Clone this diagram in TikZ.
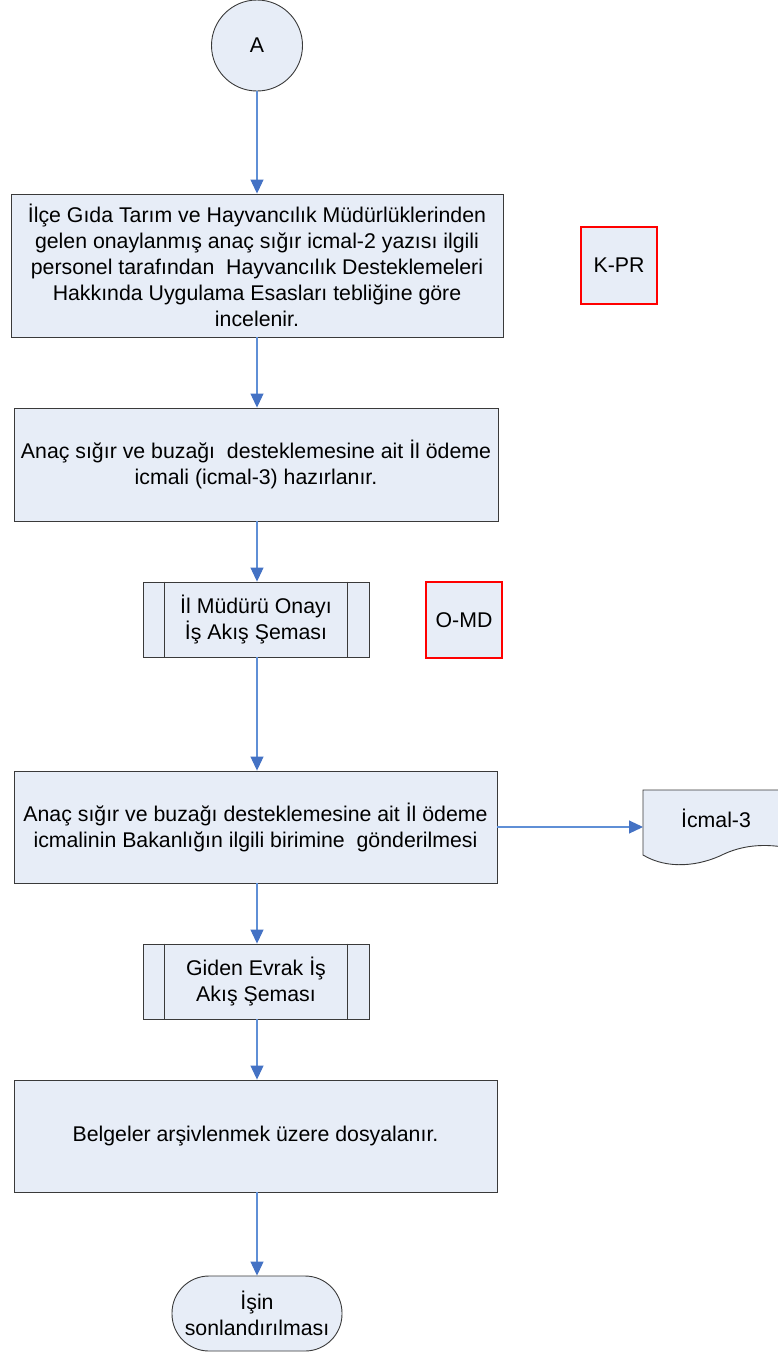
\documentclass[tikz,border=0pt]{standalone}
\usepackage{fontspec}
\setmainfont{Liberation Sans}
\usetikzlibrary{arrows.meta}
\definecolor{boxfill}{HTML}{E7EDF7}
\definecolor{edgegray}{HTML}{3A3A3A}
\definecolor{linkblue}{HTML}{5F8FD6}
\definecolor{tipblue}{HTML}{4472C4}
\begin{document}
\begin{tikzpicture}[x=1pt,y=-1pt,
  every node/.style={font=\fontsize{21.3}{26}\selectfont, align=center, inner sep=0pt},
  proc/.style={rectangle, draw=edgegray, line width=0.9pt, fill=boxfill},
  redbox/.style={rectangle, draw=red, line width=2.2pt, fill=boxfill, minimum width=76pt, minimum height=77pt},
  link/.style={draw=linkblue, line width=1.1pt, -{Triangle[length=14pt,width=13pt,fill=tipblue,color=tipblue]}}
]
\useasboundingbox (0,0) rectangle (778,1355);
\clip (0,0) rectangle (778,1355);
\fill[white] (0,0) rectangle (778,1355);

\node[circle, draw=edgegray, line width=0.9pt, fill=boxfill, minimum size=91pt] (A) at (257,45.5) {A};

\node[proc, minimum width=492pt, minimum height=143pt] (b1) at (257,265.5)
 {İlçe Gıda Tarım ve Hayvancılık Müdürlüklerinden\\gelen onaylanmış anaç sığır icmal-2 yazısı ilgili\\personel tarafından\ \ Hayvancılık Desteklemeleri\\Hakkında Uygulama Esasları tebliğine göre\\incelenir.};

\node[redbox] (kpr) at (619,265.5) {K-PR};

\node[proc, minimum width=484pt, minimum height=113pt] (b2) at (256,464.5)
 {Anaç sığır ve buzağı\ \ desteklemesine ait İl ödeme\\icmali (icmal-3) hazırlanır.};

\node[proc, minimum width=226pt, minimum height=75pt] (p1) at (256,619.5)
 {İl Müdürü Onayı\\İş Akış Şeması};
\draw[edgegray, line width=0.9pt] ([xshift=22pt]p1.north west) -- ([xshift=22pt]p1.south west);
\draw[edgegray, line width=0.9pt] ([xshift=-22pt]p1.north east) -- ([xshift=-22pt]p1.south east);

\node[redbox, minimum height=76pt] (omd) at (464,620) {O-MD};

\node[proc, minimum width=483pt, minimum height=112pt] (b3) at (255.5,827)
 {Anaç sığır ve buzağı desteklemesine ait İl ödeme\\icmalinin Bakanlığın ilgili birimine\ \ gönderilmesi};

% document shape
\filldraw[fill=boxfill, draw=edgegray, line width=0.9pt]
  (643,790) -- (805,790) -- (805,852)
  .. controls (775,843) and (748,843) .. (724,854)
  .. controls (700,866) and (668,870) .. (643,855) -- cycle;
\coordinate (docw) at (643,827);
\node (doc) at (716,818) {İcmal-3};

\node[proc, minimum width=226pt, minimum height=75pt] (p2) at (256,981.5)
 {Giden Evrak İş\\Akış Şeması};
\draw[edgegray, line width=0.9pt] ([xshift=22pt]p2.north west) -- ([xshift=22pt]p2.south west);
\draw[edgegray, line width=0.9pt] ([xshift=-22pt]p2.north east) -- ([xshift=-22pt]p2.south east);

\node[proc, minimum width=483pt, minimum height=112pt] (b4) at (255.5,1136)
 {Belgeler arşivlenmek üzere dosyalanır.};

\node[proc, rounded corners=37pt, minimum width=170pt, minimum height=75pt] (t) at (257,1313.5)
 {İşin\\sonlandırılması};

\draw[link] (A.south) -- (A.south |- b1.north);
\draw[link] (b1.south -| 257,0) -- (257,0 |- b2.north);
\draw[link] (b2.south -| 257,0) -- (257,0 |- p1.north);
\draw[link] (p1.south -| 257,0) -- (257,0 |- b3.north);
\draw[link] (b3.east) -- (docw);
\draw[link] (b3.south -| 257,0) -- (257,0 |- p2.north);
\draw[link] (p2.south -| 257,0) -- (257,0 |- b4.north);
\draw[link] (b4.south -| 257,0) -- (257,0 |- t.north);
\end{tikzpicture}
\end{document}
